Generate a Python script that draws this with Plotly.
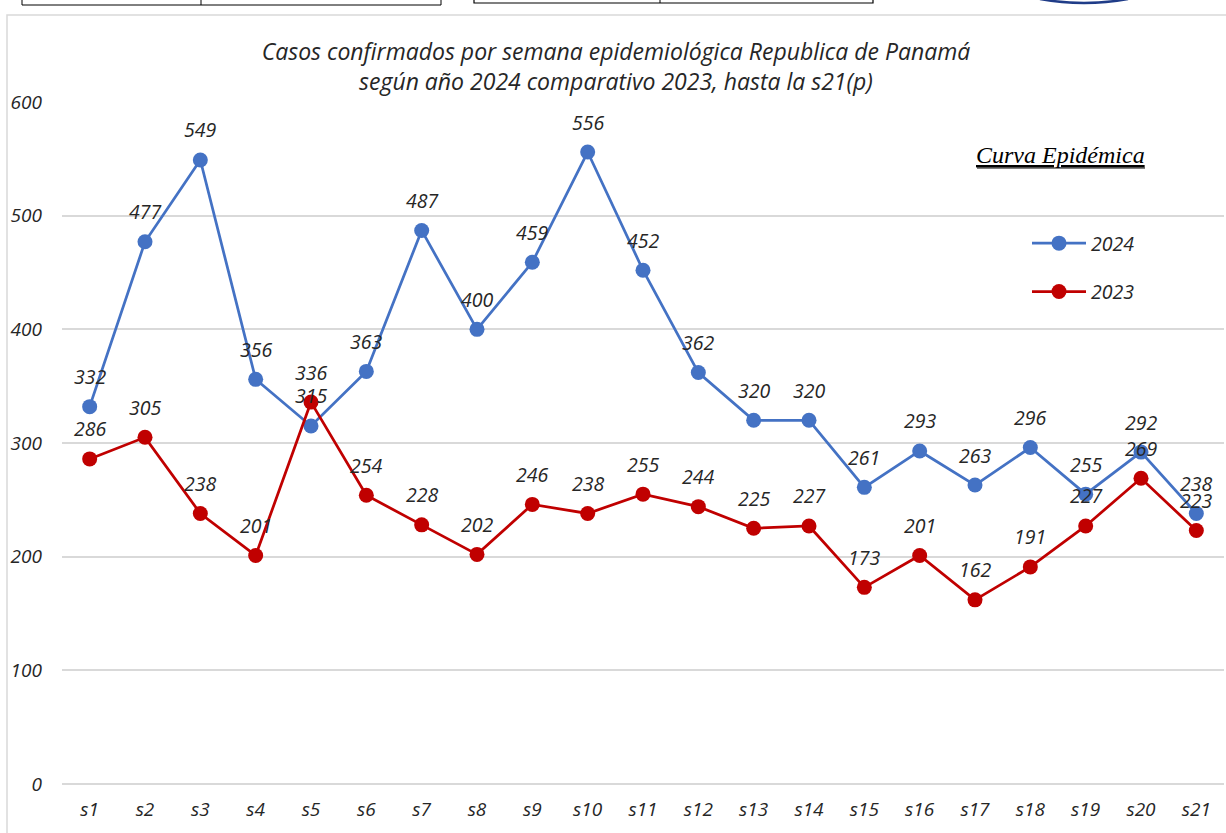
import plotly.graph_objects as go

weeks = [f"s{i}" for i in range(1, 22)]
cases_2024 = [332, 477, 549, 356, 315, 363, 487, 400, 459, 556, 452, 362, 320, 320, 261, 293, 263, 296, 255, 292, 238]
cases_2023 = [286, 305, 238, 201, 336, 254, 228, 202, 246, 238, 255, 244, 225, 227, 173, 201, 162, 191, 227, 269, 223]
y_ticks = [0, 100, 200, 300, 400, 500, 600]

BLUE = "#4472C4"
RED = "#C00000"
TXT = "#262626"
FONT = "Open Sans"

W, H = 1226, 833
L, R, T, B = 62, 2, 102, 49
PW, PH = W - L - R, H - T - B


def px(x):
    return (x - L) / PW


def py(y):
    return (H - B - y) / PH


fig = go.Figure()
fig.add_trace(go.Scatter(x=weeks, y=cases_2024, mode="lines+markers", name="2024",
                         line=dict(color=BLUE, width=2.75), marker=dict(size=15, color=BLUE),
                         legendgroup="a"))
fig.add_trace(go.Scatter(x=weeks, y=cases_2023, mode="lines+markers", name="2023",
                         line=dict(color=RED, width=2.75), marker=dict(size=15, color=RED),
                         legendgroup="b"))

annotations = []
for series in (cases_2024, cases_2023):
    for w, v in zip(weeks, series):
        annotations.append(dict(x=w, y=v, text=str(v), showarrow=False, yshift=30,
                                font=dict(family=FONT, size=19.5, color=TXT, style="italic")))

annotations.append(dict(xref="paper", yref="paper", x=px(1147), y=py(155), xanchor="right", yanchor="middle",
                        text="<u>Curva Epidémica</u>", showarrow=False,
                        font=dict(family="Liberation Serif", size=24, color="#000000", style="italic")))

shapes = [
    # chart border
    dict(type="rect", xref="paper", yref="paper", x0=px(7), x1=px(1240), y0=py(15), y1=py(850),
         line=dict(color="#d9d9d9", width=1.5), fillcolor="rgba(0,0,0,0)", layer="below"),
    # second underline of Curva Epidémica
    dict(type="line", xref="paper", yref="paper", x0=px(977), x1=px(1145), y0=py(168), y1=py(168),
         line=dict(color="#000000", width=1)),
    # top cropped boxes
    dict(type="path", xref="paper", yref="paper",
         path=f"M {px(22)} {py(-2)} L {px(22)} {py(5)} L {px(441)} {py(5)} L {px(441)} {py(-2)}",
         line=dict(color="#000000", width=1)),
    dict(type="line", xref="paper", yref="paper", x0=px(201), x1=px(201), y0=py(-2), y1=py(5),
         line=dict(color="#000000", width=1)),
    dict(type="path", xref="paper", yref="paper",
         path=f"M {px(474)} {py(-2)} L {px(474)} {py(3)} L {px(873)} {py(3)} L {px(873)} {py(-2)}",
         line=dict(color="#000000", width=1.2)),
    dict(type="line", xref="paper", yref="paper", x0=px(660), x1=px(660), y0=py(-2), y1=py(3),
         line=dict(color="#000000", width=1)),
    dict(type="path", xref="paper", yref="paper",
         path=f"M {px(1040)} {py(-1)} Q {px(1084)} {py(7)} {px(1128)} {py(-1)}",
         line=dict(color="#1F3C88", width=2.5)),
]

fig.update_layout(
    width=W, height=H,
    margin=dict(l=L, r=R, t=T, b=B),
    paper_bgcolor="white", plot_bgcolor="white",
    title=dict(text="Casos confirmados por semana epidemiológica Republica de Panamá<br>según año 2024 comparativo 2023, hasta la s21(p)",
               x=616 / W, xref="container", xanchor="center", y=1 - 60 / H, yref="container", yanchor="middle",
               font=dict(family=FONT, size=23, color=TXT, style="italic")),
    showlegend=True,
    legend=dict(x=px(1027), y=py(224), xanchor="left", yanchor="top", tracegroupgap=20, itemwidth=54,
                bgcolor="rgba(0,0,0,0)", font=dict(family=FONT, size=19.5, color=TXT, style="italic")),
    xaxis=dict(type="category", range=[-0.5, 20.5], showgrid=False, showline=False, ticks="",
               tickfont=dict(family=FONT, size=19, color=TXT, style="italic"), ticklabelstandoff=12),
    yaxis=dict(range=[0, 600], tickvals=y_ticks, showgrid=True, gridcolor="#d9d9d9", gridwidth=1.5,
               zeroline=True, zerolinecolor="#d9d9d9", zerolinewidth=1.5, showline=False, ticks="",
               tickfont=dict(family=FONT, size=19, color=TXT, style="italic"), ticklabelstandoff=19),
    annotations=annotations,
    shapes=shapes,
)

fig.write_html("out.html", config={"displayModeBar": False},
               post_script="document.body.style.margin='0';document.body.style.overflow='hidden';")
